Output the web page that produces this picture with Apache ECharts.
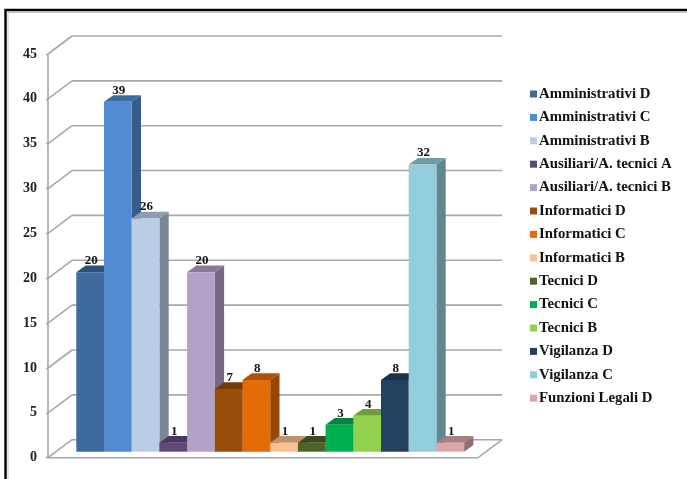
<!DOCTYPE html>
<html>
<head>
<meta charset="utf-8">
<style>html,body{margin:0;padding:0;background:#fff}#chart{width:687px;height:479px}</style>
<script src="https://cdn.jsdelivr.net/npm/echarts@6/dist/echarts.min.js"></script>
</head>
<body>
<div id="chart"></div>
<script>
// Staff counts per profile and grade
const categories = ['Amministrativi D','Amministrativi C','Amministrativi B','Ausiliari/A. tecnici A','Ausiliari/A. tecnici B','Informatici D','Informatici C','Informatici B','Tecnici D','Tecnici C','Tecnici B','Vigilanza D','Vigilanza C','Funzioni Legali D'];
const values = [20,39,26,1,20,7,8,1,1,3,4,8,32,1];
const colors = ['#3F6A9E','#528BD2','#B9CDE5','#5F497A','#B2A1C7','#974E0A','#E36C09','#FAC08F','#4F6228','#00B050','#92D050','#244061','#92CDDC','#DCA6AA'];
const yTicks = [0,5,10,15,20,25,30,35,40,45];

const FONT = '"Liberation Serif", serif';
const GRID_COLOR = '#A8A8A8';
// Oblique projection: wall depth, and where the bars sit within it
const wallDx = 24, wallDy = -18;
const barDx = 8, barDy = -6;
const sideDx = 9.3, sideDy = -6.7;

function shade(hex, k) {
  const n = parseInt(hex.slice(1), 16);
  const c = [n >> 16, (n >> 8) & 255, n & 255].map(v => Math.round(v * k));
  return 'rgb(' + c.join(',') + ')';
}

function line(x1, y1, x2, y2) {
  return {type: 'line', shape: {x1, y1, x2, y2}, style: {stroke: GRID_COLOR, lineWidth: 1.6}};
}

// Side wall segment and back wall line for one y tick, plus the floor outline at zero
function renderWall(params, api) {
  const sys = params.coordSys;
  const y = api.coord([0, api.value(0)])[1];
  const x0 = sys.x - 20.3;
  const x1 = sys.x + sys.width + 22;
  const children = [
    line(x0, y, x0 + wallDx, y + wallDy),
    line(x0 + wallDx, y + wallDy, x1 + wallDx, y + wallDy)
  ];
  if (api.value(0) === 0) {
    children.push(line(x0, y, x1, y), line(x1, y, x1 + wallDx, y + wallDy));
  }
  return {type: 'group', children};
}

function renderBar(params, api) {
  const top = api.coord([api.value(0), api.value(1)]);
  const base = api.coord([api.value(0), 0]);
  const w = api.size([1, 0])[0];
  const l = top[0] - w / 2 + barDx;
  const r = l + w;
  const t = top[1] + barDy;
  const b = base[1] + barDy;
  const color = colors[params.seriesIndex - 1];
  const poly = (points, fill) => ({type: 'polygon', shape: {points}, style: {fill}});
  return {type: 'group', children: [
    poly([[r, t], [r + sideDx, t + sideDy], [r + sideDx, b + sideDy], [r, b]], shade(color, 0.66)),
    poly([[l, t], [l + sideDx, t + sideDy], [r + sideDx, t + sideDy], [r, t]], shade(color, 0.76)),
    {type: 'rect', shape: {x: l, y: t, width: w, height: b - t}, style: {fill: color}},
    {type: 'text', z2: 10, style: {
      text: String(api.value(1)), x: l + w / 2 + 1, y: t - 11.5,
      align: 'center', verticalAlign: 'middle',
      font: 'bold 13px ' + FONT, fill: '#111'
    }}
  ]};
}

const series = [{
  type: 'custom', name: 'wall', silent: true,
  data: yTicks.map(v => [v]),
  encode: {y: 0},
  renderItem: renderWall
}].concat(categories.map((name, i) => ({
  type: 'custom', name,
  itemStyle: {color: colors[i]},
  data: [[i, values[i]]],
  encode: {x: 0, y: 1},
  renderItem: renderBar
})));

const frame = (points, stroke, lineWidth) => ({
  type: 'polyline', silent: true, shape: {points}, style: {stroke, lineWidth, fill: 'none'}
});

const chart = echarts.init(document.getElementById('chart'), null, {renderer: 'canvas'});
chart.setOption({
  animation: false,
  backgroundColor: '#fff',
  graphic: [
    frame([[5.5, 479], [5.5, 10], [687, 10]], '#000', 2.4),
    frame([[8, 479], [8, 12.5], [687, 12.5]], '#C4C4C4', 1)
  ],
  grid: {left: 68.3, top: 54, width: 387.8, height: 403.7},
  xAxis: {
    type: 'category', data: categories,
    axisLine: {show: false}, axisTick: {show: false}, axisLabel: {show: false}
  },
  yAxis: {
    type: 'value', min: 0, max: 45, interval: 5, offset: 20.3,
    axisLine: {show: true, lineStyle: {color: GRID_COLOR, width: 1.6}},
    axisTick: {show: true, length: 2, lineStyle: {color: GRID_COLOR, width: 1.4}},
    splitLine: {show: false},
    axisLabel: {margin: 11, color: '#222', fontFamily: FONT, fontSize: 14, fontWeight: 'bold'}
  },
  legend: {
    orient: 'vertical', left: 525, top: 81,
    data: categories, icon: 'rect',
    itemWidth: 7, itemHeight: 7, itemGap: 7.4,
    selectedMode: false,
    textStyle: {
      fontFamily: FONT, fontSize: 14.8, fontWeight: 'bold', color: '#111',
      padding: [0, 0, 0, -3], height: 16, lineHeight: 16
    }
  },
  series
});
</script>
</body>
</html>
